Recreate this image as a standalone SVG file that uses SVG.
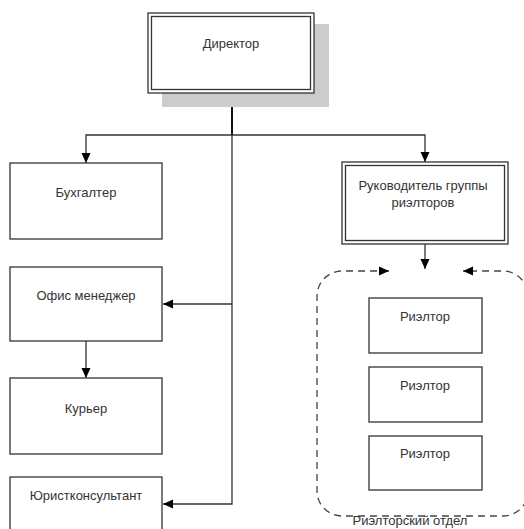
<svg xmlns="http://www.w3.org/2000/svg" width="524" height="529" viewBox="0 0 524 529">
<defs>
<style>
.box{fill:#fff;stroke:#333;stroke-width:1.3}
.in{fill:none;stroke:#333;stroke-width:1.3}
.t{font-family:"Liberation Sans",Arial,sans-serif;font-size:13px;fill:#333;text-anchor:middle}
.ln{fill:none;stroke:#333;stroke-width:1.3}
.dash{fill:none;stroke:#444;stroke-width:1.3;stroke-dasharray:7 5}
</style>
<marker id="ah" viewBox="0 0 10 10" refX="10" refY="5" markerWidth="10" markerHeight="10" markerUnits="userSpaceOnUse" orient="auto-start-reverse">
<path d="M0,0.5 L10,5 L0,9.5 Z" fill="#000"/>
</marker>
</defs>
<rect width="524" height="529" fill="#fff"/>
<g id="connectors">
<line x1="232" y1="93" x2="232" y2="135" stroke="#111" stroke-width="2"/>
<path class="ln" d="M232,135 V504 H163" marker-end="url(#ah)"/>
<path class="ln" d="M86,163 V135 H425 V162" marker-start="url(#ah)" marker-end="url(#ah)"/>
<path class="ln" d="M232,304 H163" marker-end="url(#ah)"/>
<path class="ln" d="M86,341 V378" marker-end="url(#ah)"/>
<path class="ln" d="M425,244 V269" marker-end="url(#ah)"/>
<path class="dash" d="M389,271 H342 A25,25 0 0 0 317,296 V491 A25,25 0 0 0 342,516 H503 A25,25 0 0 0 528,491 V296 A25,25 0 0 0 503,271 H463" marker-start="url(#ah)" marker-end="url(#ah)"/>
</g>
<g id="director">
<rect x="162" y="24" width="167" height="83" fill="#cccccc"/>
<rect class="box" x="148" y="13" width="166" height="80"/>
<rect class="in" x="151.5" y="16.5" width="159" height="73"/>
<text class="t" x="231" y="48">Директор</text>
</g>
<g id="buh">
<rect class="box" x="10" y="163" width="152" height="76"/>
<text class="t" x="86" y="197">Бухгалтер</text>
</g>
<g id="head">
<rect class="box" x="342" y="162" width="166" height="82"/>
<rect class="in" x="345.5" y="165.5" width="159" height="75"/>
<text class="t" x="423" y="190">Руководитель группы</text>
<text class="t" x="423" y="207">риэлторов</text>
</g>
<g id="office">
<rect class="box" x="10" y="267" width="152" height="74"/>
<text class="t" x="86" y="300">Офис менеджер</text>
</g>
<g id="courier">
<rect class="box" x="10" y="378" width="152" height="76"/>
<text class="t" x="86" y="413">Курьер</text>
</g>
<g id="lawyer">
<rect class="box" x="10" y="477" width="152" height="60"/>
<text class="t" x="86" y="500">Юристконсультант</text>
</g>
<g id="realtor1">
<rect class="box" x="369" y="298" width="113" height="55"/>
<text class="t" x="425" y="321">Риэлтор</text>
</g>
<g id="realtor2">
<rect class="box" x="369" y="367" width="113" height="55"/>
<text class="t" x="425" y="390">Риэлтор</text>
</g>
<g id="realtor3">
<rect class="box" x="369" y="436" width="113" height="54"/>
<text class="t" x="425" y="458">Риэлтор</text>
</g>
<g id="dept-label">
<text class="t" x="410" y="525">Риэлторский отдел</text>
</g>
</svg>
